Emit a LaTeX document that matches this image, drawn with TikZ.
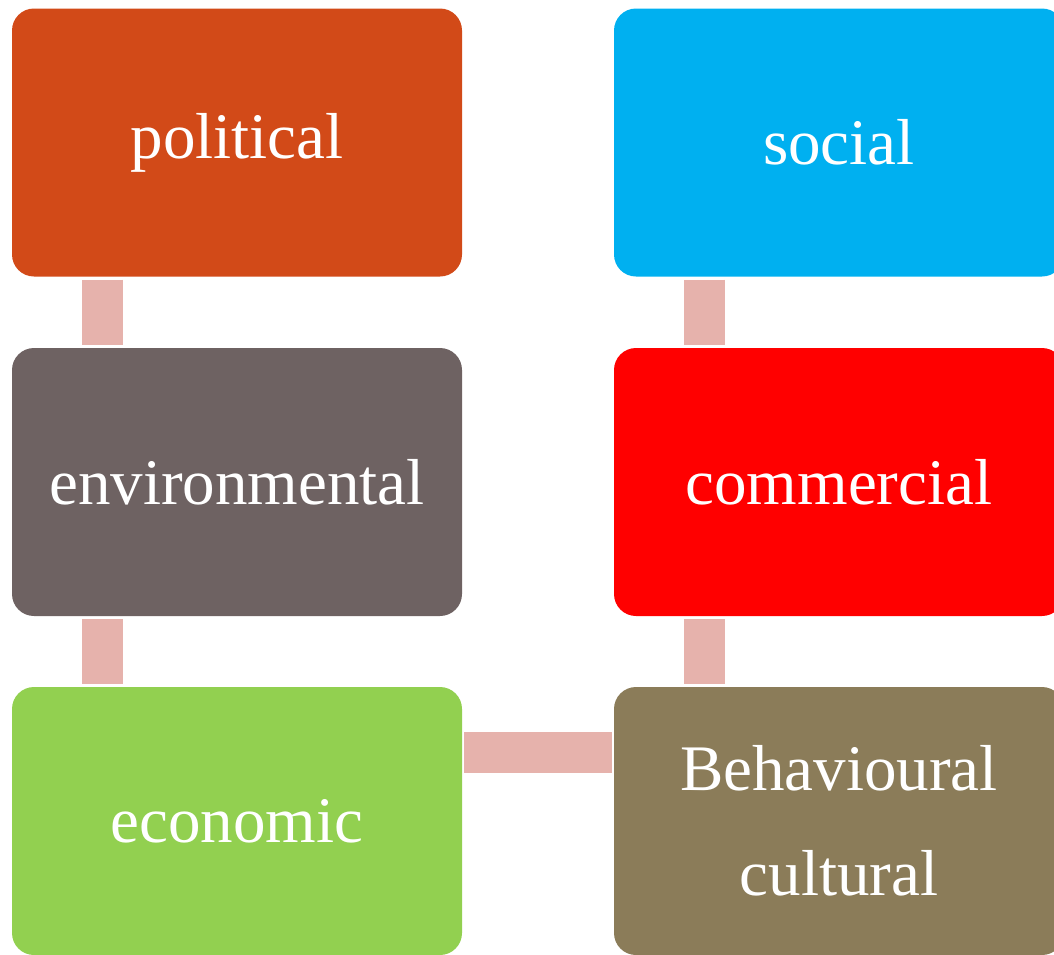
\documentclass[tikz,border=0pt]{standalone}
\usepackage{fontspec}
\setmainfont{Liberation Serif}
\usetikzlibrary{calc}
\definecolor{cpol}{RGB}{210,74,24}
\definecolor{csoc}{RGB}{0,176,240}
\definecolor{cenv}{RGB}{110,98,98}
\definecolor{ccom}{RGB}{255,0,0}
\definecolor{ceco}{RGB}{146,208,80}
\definecolor{cbeh}{RGB}{139,124,89}
\definecolor{cbar}{RGB}{230,178,172}
\tikzset{
  box/.style={rounded corners=22pt, minimum width=450pt, minimum height=268pt,
    inner sep=0pt, text=white, align=center,
    font=\fontsize{65}{105}\selectfont},
  conn/.style={draw=cbar, line width=41pt}
}
\begin{document}
\begin{tikzpicture}[x=1pt,y=1pt]
\useasboundingbox (0,0) rectangle (1054,-954);
\clip (0,0) rectangle (1054,-954);
\node[box, fill=cpol] (pol) at (237,-142.5) {political};
\node[box, fill=csoc] (soc) at (839,-142.5) {social};
\node[box, fill=cenv] (env) at (237,-482) {environmental};
\node[box, fill=ccom] (com) at (839,-482) {commercial};
\node[box, fill=ceco] (eco) at (237,-821) {economic};
\node[box, fill=cbeh] (beh) at (839,-821) {Behavioural\\cultural};
\draw[conn] ($(pol.south west)+(90.5,-3)$) -- ($(env.north west)+(90.5,3)$);
\draw[conn] ($(env.south west)+(90.5,-3)$) -- ($(eco.north west)+(90.5,3)$);
\draw[conn] ($(soc.south west)+(90.5,-3)$) -- ($(com.north west)+(90.5,3)$);
\draw[conn] ($(com.south west)+(90.5,-3)$) -- ($(beh.north west)+(90.5,3)$);
\draw[conn] ($(eco.east)+(2,68.5)$) -- ($(beh.west)+(-2,68.5)$);
\end{tikzpicture}
\end{document}
